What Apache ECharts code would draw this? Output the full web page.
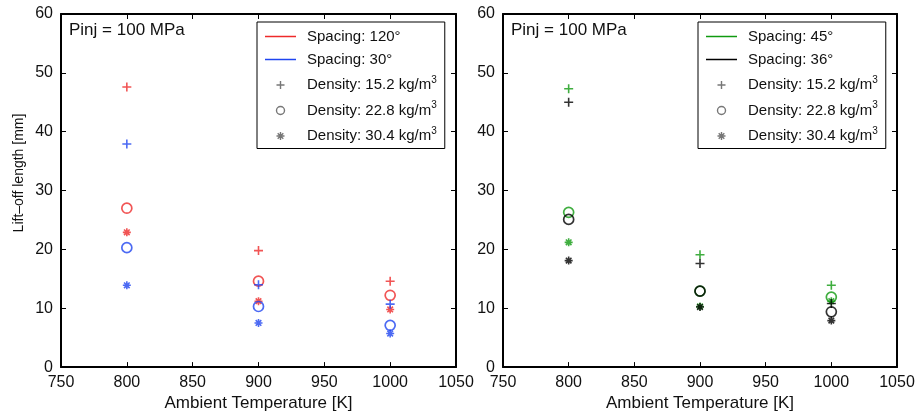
<!DOCTYPE html>
<html><head><meta charset="utf-8">
<script src="https://cdn.jsdelivr.net/npm/echarts@6/dist/echarts.min.js"></script>
<style>html,body{margin:0;padding:0;background:#fff}#c{width:919px;height:417px}</style>
</head><body><div id="c"></div>
<script>
// ---- data ----
const temperatures = [800, 900, 1000];
const densities = ['15.2', '22.8', '30.4'];
// left panel
const sp120 = { d15: [47.6, 19.8, 14.6], d22: [27.0, 14.6, 12.2], d30: [22.9, 11.2, 9.8] };
const sp30  = { d15: [37.9, 14.0, 10.7], d22: [20.3, 10.3, 7.1], d30: [13.9, 7.5, 5.7] };
// right panel
const sp45  = { d15: [47.3, 19.1, 13.9], d22: [26.3, 12.9, 11.9], d30: [21.2, 10.3, 11.2] };
const sp36  = { d15: [45.0, 17.6, 10.8], d22: [25.1, 12.9, 9.4], d30: [18.1, 10.2, 7.9] };
const xTicks = [750, 800, 850, 900, 950, 1000, 1050];
const yTicks = [0, 10, 20, 30, 40, 50, 60];

const FONT = '"Liberation Sans", Arial, sans-serif';
const TXT = '#111';
const PLUS = 'path://M5,0L5,10M0,5L10,5';
const STAR = 'path://M5,0L5,10M0,5L10,5M1.5,1.5L8.5,8.5M8.5,1.5L1.5,8.5';
const LINEICON = 'path://M0,0L31,0L31,1.5L0,1.5Z';
const markers = {
  d15: { symbol: PLUS, size: 9, width: 1.6 },
  d22: { symbol: 'circle', size: 10, width: 1.7 },
  d30: { symbol: STAR, size: 8, width: 1.6 }
};
const RED = '#ee2a2a', BLUE = '#1f45f0', GREEN = '#109a10', BLACK = '#000000', GRAY = '#555555';

function pts(vals) { return temperatures.map((t, i) => [t, vals[i]]); }

const grids = [
  { left: 61, right: 463, top: 14, bottom: 47 },
  { left: 503, right: 22, top: 14, bottom: 47 }
];
const xAxes = [], yAxes = [];
grids.forEach((g, gi) => {
  const common = {
    gridIndex: gi, type: 'value', min: xTicks[0], max: xTicks[xTicks.length - 1], interval: 50,
    axisLine: { onZero: false, lineStyle: { color: '#000', width: 2 } },
    axisTick: { inside: true, length: 5, lineStyle: { color: '#000', width: 1 } },
    splitLine: { show: false }
  };
  xAxes.push(Object.assign({}, common, {
    position: 'bottom',
    name: 'Ambient Temperature [K]', nameLocation: 'middle', nameGap: 22,
    nameTextStyle: { fontFamily: FONT, fontSize: 17, color: TXT },
    axisLabel: { fontFamily: FONT, fontSize: 16, color: TXT, margin: 7, formatter: v => String(v) }
  }));
  xAxes.push(Object.assign({}, common, { position: 'top', axisLabel: { show: false } }));
  const ycommon = {
    gridIndex: gi, type: 'value', min: yTicks[0], max: yTicks[yTicks.length - 1], interval: 10,
    axisLine: { onZero: false, lineStyle: { color: '#000', width: 2 } },
    axisTick: { inside: true, length: 5, lineStyle: { color: '#000', width: 1 } },
    splitLine: { show: false }
  };
  yAxes.push(Object.assign({}, ycommon, {
    position: 'left',
    axisLabel: { fontFamily: FONT, fontSize: 16, color: TXT, margin: 8, formatter: v => String(v) }
  }));
  yAxes.push(Object.assign({}, ycommon, { position: 'right', axisLabel: { show: false } }));
});

const series = [];
function addSpacing(name, color, set, gi) {
  series.push({ name: name, type: 'line', xAxisIndex: gi * 2, yAxisIndex: gi * 2, data: [],
    symbol: 'none', lineStyle: { color: color, width: 1.5 }, itemStyle: { color: color } });
  ['d15', 'd22', 'd30'].forEach(k => {
    const m = markers[k];
    series.push({
      name: name + ' ' + k, type: 'scatter', xAxisIndex: gi * 2, yAxisIndex: gi * 2,
      data: pts(set[k]), symbol: m.symbol, symbolSize: m.size,
      itemStyle: { color: 'rgba(0,0,0,0)', borderColor: color, borderWidth: m.width },
      emphasis: { disabled: true }, z: 3
    });
  });
}
addSpacing('Spacing: 120°', RED, sp120, 0);
addSpacing('Spacing: 30°', BLUE, sp30, 0);
addSpacing('Spacing: 45°', GREEN, sp45, 1);
addSpacing('Spacing: 36°', BLACK, sp36, 1);

// dummy series for density legend entries
const densityNames = densities.map(d => 'Density: ' + d + ' kg/m3');
const densityIcons = [PLUS, 'circle', STAR];
densityNames.forEach(n => series.push({ name: n, type: 'scatter', data: [], xAxisIndex: 0, yAxisIndex: 0 }));

function legendFor(spacing, leftPx) {
  const data = spacing.map(s => ({ name: s[0], icon: LINEICON, itemStyle: { color: s[1], borderWidth: 0 } }));
  densityNames.forEach((n, i) => data.push({
    name: n, icon: densityIcons[i],
    itemStyle: { color: 'rgba(0,0,0,0)', borderColor: GRAY, borderWidth: 1.4 }
  }));
  return {
    orient: 'vertical', left: leftPx, top: 22, width: 194,
    backgroundColor: '#fff', borderColor: '#000', borderWidth: 1,
    padding: [7, 8, 5, 8], itemWidth: 31, itemHeight: 8, itemGap: 8,
    selectedMode: false,
    data: data,
    formatter: function (name) {
      if (name.indexOf('Density') === 0) {
        return '{t|' + name.slice(0, -1) + '}{s|3}';
      }
      return '{t|' + name + '}';
    },
    textStyle: {
      fontFamily: FONT, fontSize: 15, color: TXT,
      rich: {
        t: { fontFamily: FONT, fontSize: 15, color: TXT, padding: [0, 0, 0, 6] },
        s: { fontFamily: FONT, fontSize: 10, color: TXT, verticalAlign: 'top', padding: [0, 0, 10, 0] }
      }
    }
  };
}

const titleStyle = { fontFamily: FONT, fontSize: 17, fontWeight: 'normal', color: TXT };
const option = {
  animation: false,
  backgroundColor: '#fff',
  title: [
    { text: 'Pinj = 100 MPa', left: 69, top: 22, textStyle: titleStyle, padding: 0 },
    { text: 'Pinj = 100 MPa', left: 511, top: 22, textStyle: titleStyle, padding: 0 }
  ],
  graphic: [{
    type: 'text', x: 19, y: 173, rotation: Math.PI / 2,
    style: { text: 'Lift–off length [mm]', fontFamily: FONT, fontSize: 14, fill: TXT,
      textAlign: 'center', textVerticalAlign: 'middle' }
  }],
  grid: grids,
  xAxis: xAxes,
  yAxis: yAxes,
  legend: [
    legendFor([['Spacing: 120°', RED], ['Spacing: 30°', BLUE]], 257),
    legendFor([['Spacing: 45°', GREEN], ['Spacing: 36°', BLACK]], 698)
  ],
  series: series
};
const chart = echarts.init(document.getElementById('c'), null, { renderer: 'canvas' });
chart.setOption(option);
</script></body></html>
